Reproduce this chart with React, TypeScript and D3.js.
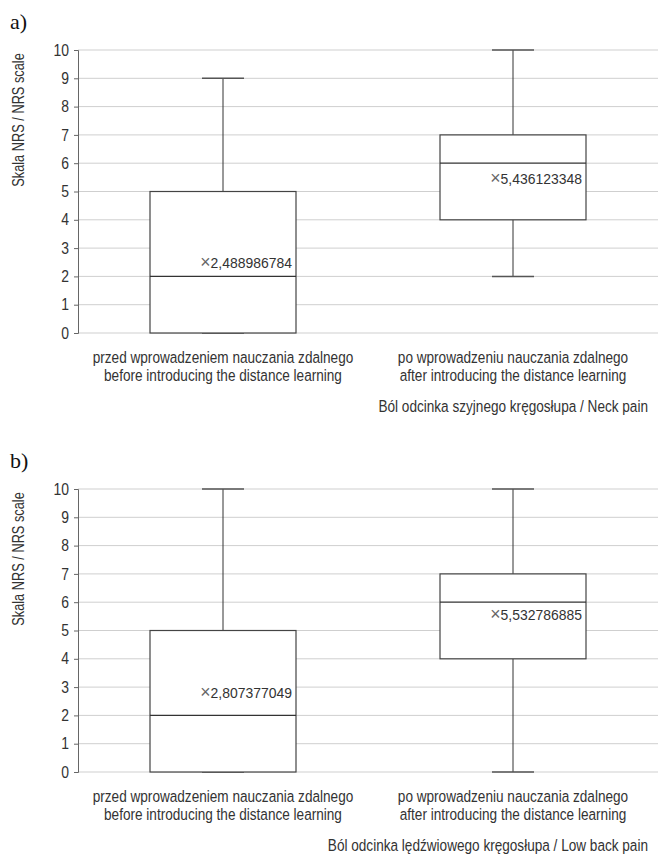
import React, { useEffect, useRef } from 'react';
import * as d3 from 'd3';

// categories (two-line labels: polish / english)
const categoryPl = ['przed wprowadzeniem nauczania zdalnego', 'po wprowadzeniu nauczania zdalnego'];
const categoryEn = ['before introducing the distance learning', 'after introducing the distance learning'];
const yTicks = [0, 1, 2, 3, 4, 5, 6, 7, 8, 9, 10];

// a) neck pain
const neckMin = [0, 2];
const neckQ1 = [0, 4];
const neckMedian = [2, 6];
const neckQ3 = [5, 7];
const neckMax = [9, 10];
const neckMean = [2.488986784, 5.436123348];

// b) low back pain
const backMin = [0, 0];
const backQ1 = [0, 4];
const backMedian = [2, 6];
const backQ3 = [5, 7];
const backMax = [10, 10];
const backMean = [2.807377049, 5.532786885];

const panels = [
  { tag: 'a)', footer: 'Ból odcinka szyjnego kręgosłupa / Neck pain', min: neckMin, q1: neckQ1, median: neckMedian, q3: neckQ3, max: neckMax, mean: neckMean, top: 50 },
  { tag: 'b)', footer: 'Ból odcinka lędźwiowego kręgosłupa / Low back pain', min: backMin, q1: backQ1, median: backMedian, q3: backQ3, max: backMax, mean: backMean, top: 489 },
];

const FONT = '"Liberation Sans", Arial, sans-serif';
const TEXT = '#333';

// condensed-looking text: regular sans squeezed horizontally
const narrowText = (g, x, y, str, size, sx, anchor = 'start', rotate = 0) =>
  g
    .append('text')
    .attr('transform', `translate(${x},${y}) rotate(${rotate}) scale(${sx},1)`)
    .attr('text-anchor', anchor)
    .attr('font-family', FONT)
    .attr('font-size', size)
    .attr('fill', TEXT)
    .text(str);

const App = () => {
  const ref = useRef<SVGSVGElement>(null);

  useEffect(() => {
    const svg = d3.select(ref.current);
    svg.selectAll('*').remove();

    const left = 78;
    const right = 658;
    const plotH = 283;

    const x = d3.scaleBand().domain(categoryPl).range([left, right]);
    const boxW = 146;
    const capW = 42;

    panels.forEach((p) => {
      const y = d3.scaleLinear().domain([0, 10]).range([p.top + plotH, p.top]);
      const g = svg.append('g');

      // panel tag
      g.append('text')
        .attr('x', 10)
        .attr('y', p.top - 21)
        .attr('font-family', '"Liberation Serif", "DejaVu Serif", serif')
        .attr('font-size', 22)
        .attr('fill', '#111')
        .text(p.tag);

      // gridlines
      g.selectAll('line.grid')
        .data(yTicks)
        .enter()
        .append('line')
        .attr('x1', left)
        .attr('x2', right)
        .attr('y1', (d) => y(d))
        .attr('y2', (d) => y(d))
        .attr('stroke', '#cfcfcf')
        .attr('stroke-width', 1);

      // y axis
      const tsx = 0.87;
      const axis = g
        .append('g')
        .attr('transform', `translate(${left},0)`)
        .call(d3.axisLeft(y).tickValues(yTicks).tickSize(4).tickPadding(5).tickFormat(d3.format('d')));
      axis.select('.domain').attr('stroke', '#666');
      axis.selectAll('.tick line').attr('stroke', '#666');
      axis
        .selectAll('.tick text')
        .attr('transform', `scale(${tsx},1)`)
        .attr('x', -9 / tsx)
        .attr('font-family', FONT)
        .attr('font-size', 16)
        .attr('fill', TEXT);

      // y title
      narrowText(g, 24, p.top + 70, 'Skala NRS / NRS scale', 16, 0.8, 'middle', -90);

      categoryPl.forEach((c, i) => {
        const cx = (x(c) as number) + x.bandwidth() / 2;
        const x0 = cx - boxW / 2;

        // whiskers
        g.append('line')
          .attr('x1', cx).attr('x2', cx)
          .attr('y1', y(p.q3[i])).attr('y2', y(p.max[i]))
          .attr('stroke', '#333');
        g.append('line')
          .attr('x1', cx).attr('x2', cx)
          .attr('y1', y(p.q1[i])).attr('y2', y(p.min[i]))
          .attr('stroke', '#333');
        [p.max[i], p.min[i]].forEach((v) => {
          g.append('line')
            .attr('x1', cx - capW / 2).attr('x2', cx + capW / 2)
            .attr('y1', y(v)).attr('y2', y(v))
            .attr('stroke', '#555')
            .attr('stroke-width', 1.5);
        });

        // box
        g.append('rect')
          .attr('x', x0)
          .attr('y', y(p.q3[i]))
          .attr('width', boxW)
          .attr('height', y(p.q1[i]) - y(p.q3[i]))
          .attr('fill', 'white')
          .attr('stroke', '#444')
          .attr('stroke-width', 1.2);

        // median
        g.append('line')
          .attr('x1', x0).attr('x2', x0 + boxW)
          .attr('y1', y(p.median[i])).attr('y2', y(p.median[i]))
          .attr('stroke', '#333')
          .attr('stroke-width', 1.2);

        // mean label: big light "×" then the value
        const m = narrowText(g, x0 + boxW - 4, y(p.mean[i]) + 5, '', 15, 0.93, 'end');
        m.append('tspan').attr('font-size', 19).attr('fill', '#666').text('×');
        m.append('tspan').text(String(p.mean[i]).replace('.', ','));

        // category label
        narrowText(g, cx, p.top + plotH + 30, c, 17, 0.8, 'middle');
        narrowText(g, cx, p.top + plotH + 48, categoryEn[i], 17, 0.8, 'middle');
      });

      // footer
      narrowText(g, right - 10, p.top + plotH + 79, p.footer, 17, 0.8, 'end');
    });
  }, []);

  return (
    <svg
      ref={ref}
      width={658}
      height={857}
      style={{ position: 'absolute', left: 0, top: 0, background: 'white' }}
    />
  );
};

export default App;
